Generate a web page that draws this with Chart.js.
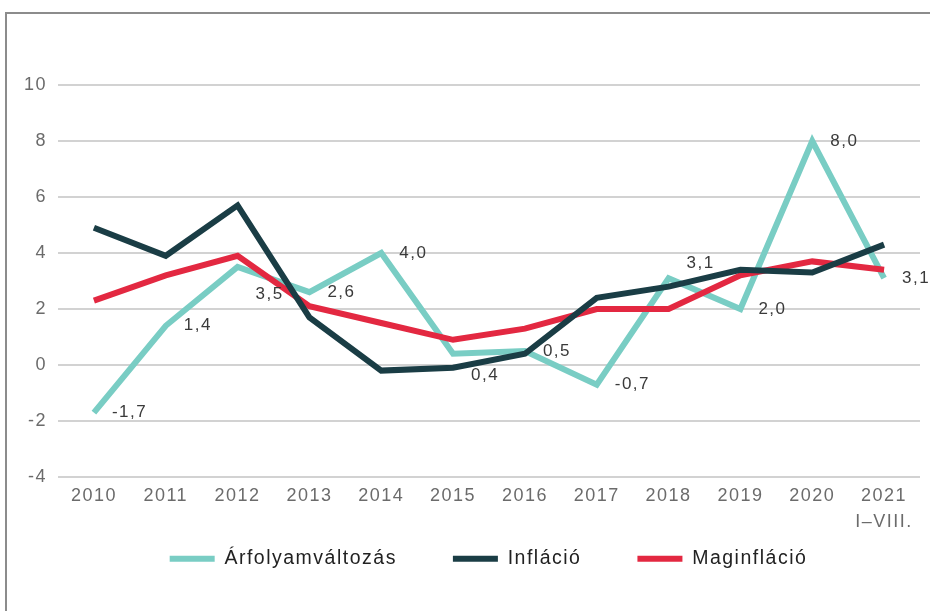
<!DOCTYPE html>
<html>
<head>
<meta charset="utf-8">
<script src="https://cdn.jsdelivr.net/npm/chart.js@4"></script>
<style>
  html, body { margin: 0; padding: 0; background: #fff; }
  body { width: 930px; height: 611px; overflow: hidden; }
  .frame {
    position: absolute; left: 5px; top: 12px; width: 925px; height: 599px;
    border-top: 2px solid #8c8c8c; border-left: 2px solid #8c8c8c;
  }
  .frame canvas { display: block; }
</style>
</head>
<body>
<div class="frame"><canvas id="myChart"></canvas></div>
<script>
const years = ['2010', '2011', '2012', '2013', '2014', '2015', '2016', '2017', '2018', '2019', '2020', ['2021', 'I–VIII.']];
const arfolyam = [-1.7, 1.4, 3.5, 2.6, 4.0, 0.4, 0.5, -0.7, 3.1, 2.0, 8.0, 3.1];
const inflacio = [4.9, 3.9, 5.7, 1.7, -0.2, -0.1, 0.4, 2.4, 2.8, 3.4, 3.3, 4.3];
const maginflacio = [2.3, 3.2, 3.9, 2.1, 1.5, 0.9, 1.3, 2.0, 2.0, 3.2, 3.7, 3.4];
const yTicks = [-4, -2, 0, 2, 4, 6, 8, 10];

const TEAL = '#79cdc4';
const DARK = '#1a3d45';
const RED = '#e32841';
const FONT = '"Liberation Sans", Arial, sans-serif';

// value labels next to the exchange-rate line, a few nudged vertically
const valueLabels = {
  id: 'valueLabels',
  afterDatasetsDraw(chart) {
    const nudge = { 2: 27, 5: 22, 8: -15 };
    const meta = chart.getDatasetMeta(0);
    const ctx = chart.ctx;
    ctx.save();
    ctx.font = '17px ' + FONT;
    ctx.fillStyle = '#3a3a3a';
    ctx.textAlign = 'left';
    ctx.textBaseline = 'middle';
    meta.data.forEach((pt, i) => {
      const txt = arfolyam[i].toFixed(1).replace('.', ',');
      ctx.fillText(txt, pt.x + 18, pt.y + (nudge[i] || 0));
    });
    ctx.restore();
  }
};

const spacing = {
  id: 'spacing',
  beforeLayout(chart) { chart.ctx.letterSpacing = '1.5px'; },
  beforeDraw(chart) { chart.ctx.letterSpacing = '1.5px'; }
};

// pull the legend up under the axis labels and a bit to the right
const legendShift = {
  id: 'legendShift',
  afterLayout(chart) {
    const lg = chart.legend;
    lg.top -= 42; lg.bottom -= 42;
    lg.left += 25; lg.right += 25;
  }
};

const ctx = document.getElementById('myChart');
new Chart(ctx, {
  type: 'line',
  data: {
    labels: years,
    datasets: [
      { label: 'Árfolyamváltozás', data: arfolyam, borderColor: TEAL, backgroundColor: TEAL, order: 2 },
      { label: 'Infláció', data: inflacio, borderColor: DARK, backgroundColor: DARK, order: 0 },
      { label: 'Maginfláció', data: maginflacio, borderColor: RED, backgroundColor: RED, order: 1 },
    ],
  },
  options: {
    responsive: true,
    maintainAspectRatio: false,
    animation: false,
    elements: {
      line: { borderWidth: 6, tension: 0, borderCapStyle: 'butt', borderJoinStyle: 'miter' },
      point: { radius: 0, hoverRadius: 0 },
    },
    layout: { padding: { top: 71, right: 12, bottom: 0, left: 0 } },
    plugins: {
      tooltip: { enabled: false },
      legend: {
        position: 'bottom',
        maxHeight: 78,
        labels: {
          font: { family: FONT, size: 19.5 },
          color: '#222',
          boxWidth: 45,
          boxHeight: 6,
          padding: 56,
          useBorderRadius: true,
          borderRadius: 3,
          generateLabels(chart) {
            return chart.data.datasets.map((ds, i) => ({
              text: ds.label,
              fillStyle: ds.borderColor,
              strokeStyle: ds.borderColor,
              lineWidth: 0,
              fontColor: '#222',
              datasetIndex: i,
            }));
          },
        },
      },
    },
    scales: {
      x: {
        offset: true,
        grid: { display: false, drawTicks: false },
        border: { display: false },
        afterFit(scale) { scale.height = 58; },
        ticks: {
          color: '#6b6b6b',
          font: { family: FONT, size: 18, lineHeight: 1.45 },
          padding: 6,
          maxRotation: 0,
          autoSkip: false,
        },
      },
      y: {
        min: -4,
        max: 10,
        afterFit(scale) { scale.width = 51; },
        afterBuildTicks(scale) { scale.ticks = yTicks.map(v => ({ value: v })); },
        grid: { color: '#d2d2d2', lineWidth: 2, drawTicks: false },
        border: { display: false },
        ticks: {
          color: '#6b6b6b',
          font: { family: FONT, size: 18 },
          padding: 11,
          callback: v => String(v),
        },
      },
    },
  },
  plugins: [valueLabels, spacing, legendShift],
});
</script>
</body>
</html>
